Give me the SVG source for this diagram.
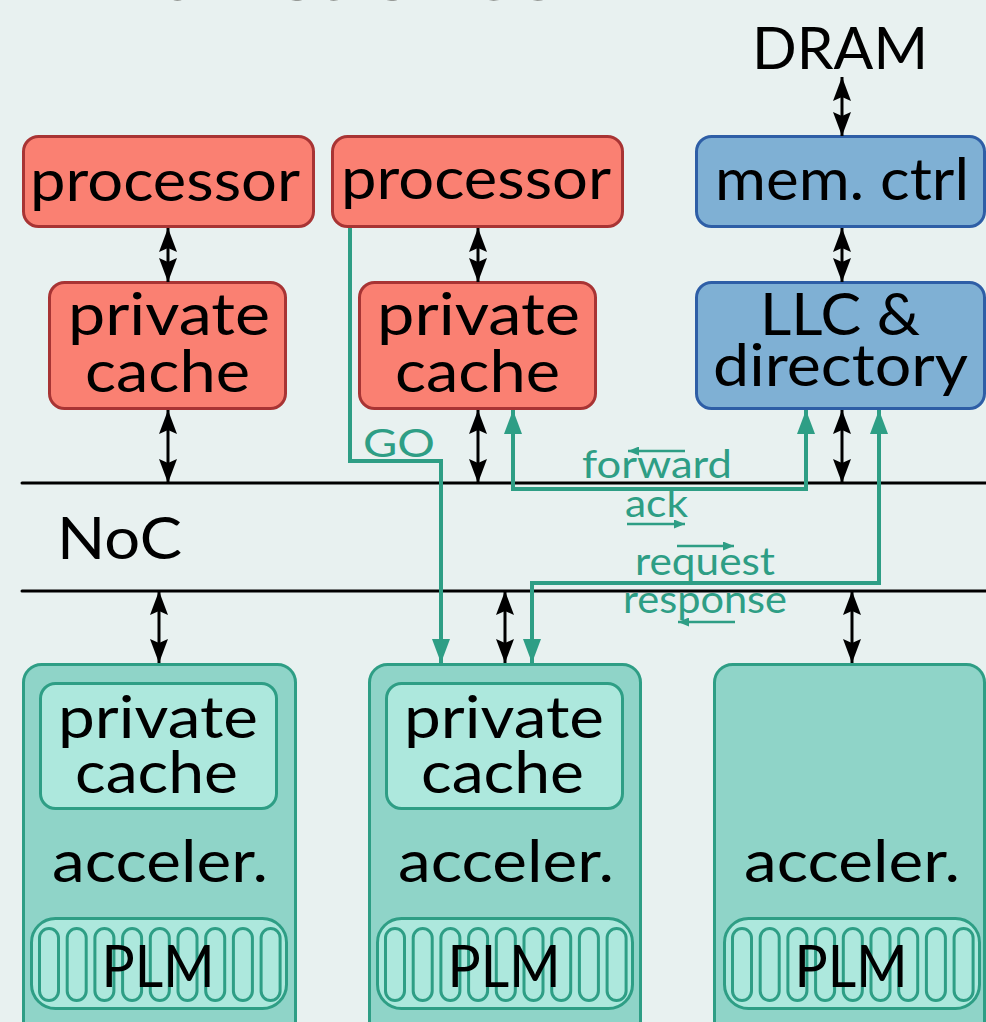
<svg xmlns="http://www.w3.org/2000/svg" xmlns:xlink="http://www.w3.org/1999/xlink" width="986" height="1022" viewBox="0 0 986 1022">
<style>
text{font-family:Lato,"Open Sans","Liberation Sans",sans-serif;fill:#000;text-anchor:middle}
.big{font-size:58px}
.lbl{font-size:38px;fill:#2e9e85}
.red{fill:#fa8072;stroke:#a83434;stroke-width:3}
.blue{fill:#7fb0d4;stroke:#2e5ea6;stroke-width:3}
.acc{fill:#8fd4c8;stroke:#2e9e85;stroke-width:3}
.lite{fill:#ade8dd;stroke:#2e9e85;stroke-width:3}
.blk{stroke:#000;stroke-width:3;fill:none;marker-start:url(#ab);marker-end:url(#ab)}
.tl{stroke:#2e9e85;stroke-width:4;fill:none}
.sm{stroke:#2e9e85;stroke-width:2.5;fill:none;marker-end:url(#as)}
.noc{stroke:#000;stroke-width:3;stroke-linecap:round}
</style>
<defs>
<marker id="ab" viewBox="0 0 24 18" refX="24" refY="9" markerWidth="24" markerHeight="18" markerUnits="userSpaceOnUse" orient="auto-start-reverse"><path d="M0,0 L24,9 L0,18 L4,9 Z" fill="#000"/></marker>
<marker id="at" viewBox="0 0 24 18" refX="24" refY="9" markerWidth="24" markerHeight="18" markerUnits="userSpaceOnUse" orient="auto-start-reverse"><path d="M0,0 L24,9 L0,18 Z" fill="#2e9e85"/></marker>
<marker id="as" viewBox="0 0 11 9" refX="11" refY="4.5" markerWidth="11" markerHeight="9" markerUnits="userSpaceOnUse" orient="auto"><path d="M0,0 L11,4.5 L0,9 Z" fill="#2e9e85"/></marker>
<g id="plm">
<rect class="lite" x="0" y="0" width="255" height="90" rx="24"/>
<g class="lite" fill="none">
<rect x="8" y="10" width="19" height="72" rx="9.5"/>
<rect x="35.7" y="10" width="19" height="72" rx="9.5"/>
<rect x="63.4" y="10" width="19" height="72" rx="9.5"/>
<rect x="91.1" y="10" width="19" height="72" rx="9.5"/>
<rect x="118.8" y="10" width="19" height="72" rx="9.5"/>
<rect x="146.5" y="10" width="19" height="72" rx="9.5"/>
<rect x="174.2" y="10" width="19" height="72" rx="9.5"/>
<rect x="201.9" y="10" width="19" height="72" rx="9.5"/>
<rect x="229.6" y="10" width="19" height="72" rx="9.5"/>
</g>
</g>
</defs>
<rect x="0" y="0" width="986" height="1022" fill="#e8f1f0"/>
<text x="55" y="0" style="font-size:84px;fill:#4a4843;text-anchor:start" textLength="505" lengthAdjust="spacingAndGlyphs">with caches</text>

<g id="noc">
<line class="noc" x1="22" y1="483" x2="990" y2="483"/>
<line class="noc" x1="22" y1="591" x2="990" y2="591"/>
<text class="big" x="119.5" y="559" textLength="125" lengthAdjust="spacingAndGlyphs">NoC</text>
</g>

<g id="dram"><text class="big" x="840" y="69" textLength="176" lengthAdjust="spacingAndGlyphs">DRAM</text></g>

<g id="proc1"><rect class="red" x="23.5" y="136.5" width="290" height="90" rx="15"/>
<text class="big" x="165" y="201" textLength="270" lengthAdjust="spacingAndGlyphs">processor</text></g>
<g id="proc2"><rect class="red" x="332.5" y="136.5" width="290" height="90" rx="15"/>
<text class="big" x="476" y="199" textLength="270" lengthAdjust="spacingAndGlyphs">processor</text></g>
<g id="cache1"><rect class="red" x="49.5" y="282.5" width="236" height="126" rx="15"/>
<text class="big" x="169" y="335" textLength="202" lengthAdjust="spacingAndGlyphs">private</text>
<text class="big" x="167.5" y="392" textLength="165" lengthAdjust="spacingAndGlyphs">cache</text></g>
<g id="cache2"><rect class="red" x="359.5" y="282.5" width="236" height="126" rx="15"/>
<text class="big" x="478.5" y="335" textLength="203" lengthAdjust="spacingAndGlyphs">private</text>
<text class="big" x="477.5" y="392" textLength="165" lengthAdjust="spacingAndGlyphs">cache</text></g>
<g id="memctrl"><rect class="blue" x="696.5" y="136.5" width="288" height="90" rx="15"/>
<text class="big" x="842" y="200" textLength="254" lengthAdjust="spacingAndGlyphs">mem. ctrl</text></g>
<g id="llc"><rect class="blue" x="696.5" y="282.5" width="288" height="126" rx="15"/>
<text class="big" x="840" y="335" textLength="160" lengthAdjust="spacingAndGlyphs">LLC &amp;</text>
<text class="big" x="840.5" y="386" textLength="255" lengthAdjust="spacingAndGlyphs">directory</text></g>

<g id="accel1"><rect class="acc" x="23.5" y="664.5" width="272" height="400" rx="18"/>
<rect class="lite" x="40.5" y="683.5" width="236" height="125" rx="15"/>
<text class="big" x="158" y="738" textLength="200" lengthAdjust="spacingAndGlyphs">private</text>
<text class="big" x="156.5" y="793" textLength="163" lengthAdjust="spacingAndGlyphs">cache</text>
<text class="big" x="160" y="882" textLength="216" lengthAdjust="spacingAndGlyphs">acceler.</text>
<use xlink:href="#plm" x="31.5" y="918.5"/>
<text class="big" x="158" y="987" textLength="113" lengthAdjust="spacingAndGlyphs">PLM</text></g>
<g id="accel2"><rect class="acc" x="369.5" y="664.5" width="271" height="400" rx="18"/>
<rect class="lite" x="386.5" y="683.5" width="236" height="125" rx="15"/>
<text class="big" x="504" y="738" textLength="200" lengthAdjust="spacingAndGlyphs">private</text>
<text class="big" x="502.5" y="793" textLength="163" lengthAdjust="spacingAndGlyphs">cache</text>
<text class="big" x="506" y="882" textLength="216" lengthAdjust="spacingAndGlyphs">acceler.</text>
<use xlink:href="#plm" x="377.5" y="918.5"/>
<text class="big" x="504" y="987" textLength="113" lengthAdjust="spacingAndGlyphs">PLM</text></g>
<g id="accel3"><rect class="acc" x="714.5" y="664.5" width="270" height="400" rx="18"/>
<text class="big" x="852" y="882" textLength="216" lengthAdjust="spacingAndGlyphs">acceler.</text>
<use xlink:href="#plm" x="724.5" y="918.5"/>
<text class="big" x="851" y="987" textLength="113" lengthAdjust="spacingAndGlyphs">PLM</text></g>

<g id="connectors">
<line class="blk" x1="842" y1="77" x2="842" y2="136"/>
<line class="blk" x1="168" y1="228" x2="168" y2="282"/>
<line class="blk" x1="478" y1="228" x2="478" y2="282"/>
<line class="blk" x1="842" y1="228" x2="842" y2="282"/>
<line class="blk" x1="168" y1="410" x2="168" y2="483"/>
<line class="blk" x1="478" y1="410" x2="478" y2="483"/>
<line class="blk" x1="842" y1="410" x2="842" y2="483"/>
<line class="blk" x1="159" y1="591" x2="159" y2="663"/>
<line class="blk" x1="505" y1="591" x2="505" y2="663"/>
<line class="blk" x1="852" y1="591" x2="852" y2="663"/>
<path class="tl" d="M350,228 V461 H441 V663" style="marker-end:url(#at)"/>
<path class="tl" d="M806,410 V489 H513 V410" style="marker-start:url(#at);marker-end:url(#at)"/>
<path class="tl" d="M879,410 V583 H532 V663" style="marker-start:url(#at);marker-end:url(#at)"/>
<line class="sm" x1="685" y1="451" x2="628" y2="451"/>
<line class="sm" x1="627" y1="524" x2="685" y2="524"/>
<line class="sm" x1="677" y1="546" x2="734" y2="546"/>
<line class="sm" x1="735" y1="622" x2="678" y2="622"/>
<text class="lbl" x="399" y="457" textLength="72" lengthAdjust="spacingAndGlyphs">GO</text>
<text class="lbl" x="657" y="478" textLength="150" lengthAdjust="spacingAndGlyphs">forward</text>
<text class="lbl" x="656.5" y="517" textLength="63" lengthAdjust="spacingAndGlyphs">ack</text>
<text class="lbl" x="705" y="575" textLength="140" lengthAdjust="spacingAndGlyphs">request</text>
<text class="lbl" x="705" y="613" textLength="164" lengthAdjust="spacingAndGlyphs">response</text>
</g>
</svg>
